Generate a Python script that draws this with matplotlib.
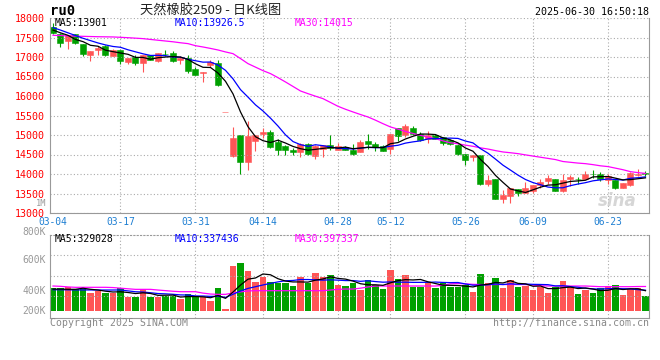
import matplotlib
matplotlib.use("Agg")
import matplotlib.pyplot as plt
import numpy as np

# trading days shown (2025)
dates = ["03-04", "03-05", "03-06", "03-07", "03-10", "03-11", "03-12", "03-13", "03-14", "03-17",
         "03-18", "03-19", "03-20", "03-21", "03-24", "03-25", "03-26", "03-27", "03-28", "03-31",
         "04-01", "04-02", "04-03", "04-07", "04-08", "04-09", "04-10", "04-11", "04-14", "04-15",
         "04-16", "04-17", "04-18", "04-21", "04-22", "04-23", "04-24", "04-25", "04-28", "04-29",
         "04-30", "05-06", "05-07", "05-08", "05-09", "05-12", "05-13", "05-14", "05-15", "05-16",
         "05-19", "05-20", "05-21", "05-22", "05-23", "05-26", "05-27", "05-28", "05-29", "05-30",
         "06-03", "06-04", "06-05", "06-06", "06-09", "06-10", "06-11", "06-12", "06-13", "06-16",
         "06-17", "06-18", "06-19", "06-20", "06-23", "06-24", "06-25", "06-26", "06-27", "06-30"]
date_ticks = ["03-04", "03-17", "03-31", "04-14", "04-28", "05-12", "05-26", "06-09", "06-23"]

open_ = [17770, 17600, 17411, 17580, 17325, 17052, 17190, 17275, 17026, 17170,
         16870, 17000, 16847, 17044, 16898, 17086, 17103, 16915, 16984, 16702,
         16590, 16787, 16847, 15580, 14454, 14992, 14309, 14847, 15018, 15069,
         14821, 14719, 14608, 14556, 14779, 14454, 14651, 14736, 14625, 14685,
         14625, 14565, 14847, 14762, 14710, 14651, 15189, 14992, 15189, 15035,
         14890, 14992, 14950, 14864, 14736, 14522, 14437, 14480, 13753, 13864,
         13351, 13437, 13608, 13522, 13565, 13710, 13821, 13881, 13565, 13864,
         13873, 13881, 14010, 13992, 13856, 13856, 13650, 13727, 13967, 14035]
high = [17880, 17610, 17560, 17600, 17330, 17155, 17275, 17300, 17215, 17180,
        16985, 17044, 17044, 17044, 17103, 17189, 17146, 17026, 17060, 16745,
        16625, 16915, 16933, 15580, 15206, 14992, 15351, 14992, 15189, 15121,
        14890, 14736, 14676, 14796, 14796, 14736, 14736, 14993, 14796, 14710,
        14779, 14864, 15035, 14821, 14736, 15018, 15189, 15291, 15223, 15078,
        15095, 15010, 14950, 14890, 14762, 14522, 14496, 14480, 13967, 13864,
        13599, 13642, 13608, 13795, 13710, 13881, 13967, 13881, 13992, 13967,
        13924, 14078, 14095, 14052, 13992, 13856, 13770, 14052, 14138, 14077]
low = [17600, 17260, 17215, 17325, 17020, 16900, 17045, 17020, 17026, 16830,
       16810, 16787, 16616, 16920, 16873, 17018, 16873, 16830, 16590, 16531,
       16360, 16745, 16250, 15580, 14437, 13992, 14095, 14582, 14932, 14676,
       14480, 14480, 14480, 14437, 14480, 14394, 14437, 14608, 14608, 14608,
       14480, 14565, 14650, 14591, 14591, 14505, 14847, 14950, 14992, 14847,
       14796, 14890, 14753, 14736, 14480, 14223, 14326, 13710, 13693, 13368,
       13266, 13266, 13437, 13522, 13522, 13650, 13753, 13565, 13540, 13693,
       13753, 13864, 13907, 13821, 13736, 13625, 13650, 13685, 13941, 13941]
close = [17625, 17360, 17556, 17360, 17070, 17155, 17240, 17050, 17170, 16900,
         16985, 16847, 17044, 16933, 17103, 17070, 16898, 16984, 16642, 16531,
         16625, 16873, 16275, 15580, 14924, 14309, 14975, 14992, 15069, 14693,
         14608, 14608, 14556, 14779, 14505, 14710, 14736, 14668, 14710, 14625,
         14505, 14821, 14762, 14693, 14591, 15018, 14967, 15223, 15035, 14881,
         15010, 14907, 14804, 14762, 14505, 14351, 14496, 13753, 13856, 13368,
         13454, 13642, 13522, 13642, 13710, 13796, 13907, 13565, 13856, 13924,
         13864, 13992, 13992, 13881, 13950, 13650, 13770, 14027, 13992, 14000]

ma5 = [17690, 17620, 17556, 17450, 17394, 17300, 17276, 17175, 17137, 17103,
       17069, 16990, 16989, 16942, 16982, 16999, 17010, 16998, 16939, 16825,
       16736, 16731, 16589, 16377, 16055, 15592, 15213, 14956, 14854, 14808,
       14867, 14794, 14707, 14649, 14611, 14632, 14657, 14680, 14666, 14690,
       14649, 14666, 14685, 14681, 14674, 14777, 14806, 14898, 14967, 15025,
       15023, 15011, 14927, 14873, 14798, 14666, 14584, 14373, 14192, 13965,
       13785, 13615, 13568, 13526, 13594, 13662, 13715, 13724, 13767, 13810,
       13823, 13840, 13926, 13931, 13936, 13893, 13849, 13856, 13878, 13901]
ma10 = [17753, 17690, 17620, 17550, 17480, 17420, 17360, 17310, 17270, 17249,
        17185, 17133, 17082, 17040, 17043, 17034, 17000, 16994, 16941, 16904,
        16868, 16871, 16794, 16658, 16440, 16164, 15972, 15773, 15616, 15432,
        15230, 15004, 14832, 14752, 14710, 14750, 14726, 14694, 14658, 14651,
        14641, 14662, 14683, 14674, 14682, 14713, 14736, 14792, 14824, 14850,
        14900, 14909, 14913, 14920, 14912, 14845, 14798, 14650, 14533, 14382,
        14226, 14100, 13971, 13859, 13780, 13724, 13665, 13646, 13647, 13702,
        13743, 13778, 13825, 13849, 13873, 13858, 13845, 13891, 13905, 13926.5]
ma30 = [17556, 17550, 17540, 17535, 17530, 17525, 17520, 17517, 17514, 17505,
        17495, 17483, 17471, 17450, 17430, 17410, 17390, 17365, 17343, 17290,
        17257, 17220, 17180, 17130, 17086, 16960, 16830, 16740, 16650, 16574,
        16470, 16360, 16245, 16129, 16060, 15995, 15932, 15835, 15736, 15660,
        15591, 15525, 15462, 15380, 15290, 15206, 15150, 15090, 15040, 14992,
        14945, 14905, 14850, 14800, 14775, 14740, 14710, 14670, 14640, 14600,
        14565, 14545, 14522, 14490, 14460, 14430, 14400, 14370, 14320, 14300,
        14280, 14265, 14240, 14210, 14190, 14150, 14110, 14060, 14035, 14015]

# volume, thousands of lots
vol = [378, 378, 389, 351, 351, 292, 319, 292, 286, 373,
       232, 232, 351, 232, 221, 243, 243, 189, 275, 221,
       221, 167, 378, 37, 734, 782, 648, 475, 556, 475,
       459, 459, 405, 556, 459, 621, 556, 583, 421, 405,
       459, 340, 502, 421, 356, 664, 518, 583, 394, 394,
       475, 378, 448, 383, 383, 421, 313, 599, 448, 535,
       373, 502, 383, 405, 340, 394, 292, 383, 486, 383,
       275, 340, 292, 367, 405, 416, 259, 351, 367, 243]
vol_ma5 = [355, 355, 352, 352, 369, 352, 340, 321, 308, 312,
           300, 283, 295, 284, 254, 256, 258, 226, 234, 234,
           230, 215, 252, 205, 307, 420, 516, 535, 600, 587,
           523, 485, 471, 471, 468, 500, 519, 555, 528, 517,
           485, 442, 425, 425, 416, 457, 492, 508, 503, 511,
           473, 445, 418, 416, 413, 403, 390, 420, 433, 463,
           454, 491, 448, 440, 401, 405, 363, 363, 379, 388,
           364, 373, 355, 331, 336, 364, 348, 360, 360, 329.028]
vol_ma10 = [345, 345, 343, 342, 341, 341, 340, 340, 340, 341,
            326, 312, 308, 296, 283, 278, 271, 261, 259, 244,
            243, 237, 239, 220, 271, 325, 366, 394, 422, 447,
            472, 490, 495, 510, 510, 505, 500, 505, 500, 493,
            493, 481, 490, 477, 467, 471, 467, 467, 464, 464,
            465, 469, 463, 460, 462, 438, 418, 419, 425, 438,
            429, 441, 434, 437, 432, 430, 427, 406, 410, 395,
            385, 368, 359, 355, 362, 364, 361, 358, 346, 337.436]
vol_ma30 = [405, 400, 390, 384, 384, 384, 384, 384, 380, 370,
            360, 351, 351, 351, 340, 330, 320, 313, 313, 313,
            290, 275, 270, 270, 292, 310, 325, 329, 329, 329,
            329, 329, 329, 329, 329, 329, 329, 340, 351, 356,
            356, 370, 390, 405, 405, 405, 405, 405, 405, 405,
            405, 405, 415, 440, 445, 440, 432, 429, 429, 429,
            429, 429, 429, 429, 420, 410, 405, 405, 405, 405,
            405, 405, 400, 394, 394, 394, 394, 394, 397, 397.337]
vol_labels = ["800K", "600K", "400K", "200K"]

RED = "#ff5555"
GREEN = "#00a000"
GRID = "#aaaaaa"
FRAME = "#999999"
MONO = "DejaVu Sans Mono"
plt.rcParams["font.family"] = [MONO, "Noto Sans CJK SC"]

W, H = 660, 360
def fx(px):
    return px / W
def fy(py):
    return 1 - py / H

fig = plt.figure(figsize=(6.6, 3.6), dpi=100)
ax = fig.add_axes([fx(50), fy(213), fx(599), 195 / H])
axv = fig.add_axes([fx(50), fy(318), fx(599), 83.3 / H])

x = np.arange(len(dates))
o = np.array(open_)
c = np.array(close)
cols = np.where(c >= o, RED, GREEN)
tick_pos = [dates.index(d) for d in date_ticks]

# price panel
ax.vlines(x, low, high, colors=cols, lw=0.8)
ax.bar(x, np.maximum(np.abs(c - o), 6), bottom=np.minimum(o, c), width=0.8,
       color=cols, edgecolor=cols, linewidth=0.4)
ax.plot(x, ma30, color="#ff00ff", lw=0.9)
ax.plot(x, ma10, color="#0000ff", lw=0.9)
ax.plot(x, ma5, color="black", lw=0.9)

ax.set_xlim(-0.4, 79.47)
ax.set_ylim(13000, 18000)
ax.set_yticks(np.arange(13000, 18001, 500))
ax.grid(axis="y", color=GRID, linestyle=(0, (1, 2)), lw=0.8)
for p in tick_pos[1:]:
    ax.axvline(p, color=GRID, linestyle=(0, (1, 2)), lw=0.8, zorder=0)
ax.set_xticks(tick_pos)
ax.set_xticklabels(date_ticks)
ax.tick_params(axis="y", length=0, pad=4, labelcolor="#ff0000", labelsize=7.2)
ax.tick_params(axis="x", length=0, pad=3, labelcolor="#1e7fd2", labelsize=6.9)
for s in ["left", "bottom", "right"]:
    ax.spines[s].set_color(FRAME)
ax.spines["top"].set_visible(False)

ax.text(0.98, 0.06, "sina", transform=ax.transAxes, ha="right", va="center",
        fontsize=12, fontweight="bold", style="italic", color="#cccccc",
        family="DejaVu Sans", alpha=0.8)

# volume panel
axv.bar(x, vol, width=0.82, color=cols, linewidth=0)
axv.plot(x, vol_ma30, color="#ff00ff", lw=0.9)
axv.plot(x, vol_ma10, color="#0000ff", lw=0.9)
axv.plot(x, vol_ma5, color="black", lw=0.9)
axv.set_xlim(-0.4, 79.47)
axv.set_ylim(-113, 1236)
axv.set_xticks([])
axv.set_yticks([248, 575, 902])
axv.set_yticklabels([])
axv.tick_params(length=0)
axv.grid(axis="y", color=GRID, linestyle=(0, (1, 2)), lw=0.8)
for p in tick_pos[1:]:
    axv.axvline(p, color=GRID, linestyle=(0, (1, 2)), lw=0.8, zorder=0)
for s in ["left", "bottom", "right"]:
    axv.spines[s].set_color(FRAME)
axv.spines["top"].set_color(FRAME)
axv.spines["top"].set_linestyle((0, (1, 2)))

for lab, py in zip(vol_labels, [231.5, 260.3, 290.7, 310.7]):
    fig.text(fx(46), fy(py), lab, ha="right", va="center", fontsize=7, color="#999999")
fig.text(fx(46), fy(203), "1M", ha="right", va="center", fontsize=6.2, color="#999999")

# legends
ty = fy(22.5)
fig.text(fx(55), ty, f"MA5:{ma5[-1]:g}", fontsize=7, va="center", color="black")
fig.text(fx(175), ty, f"MA10:{ma10[-1]:g}", fontsize=7, va="center", color="#0000ff")
fig.text(fx(295), ty, f"MA30:{ma30[-1]:g}", fontsize=7, va="center", color="#ff00ff")
vy = fy(238.5)
fig.text(fx(55), vy, f"MA5:{round(vol_ma5[-1] * 1000)}", fontsize=7, va="center", color="black")
fig.text(fx(175), vy, f"MA10:{round(vol_ma10[-1] * 1000)}", fontsize=7, va="center", color="#0000ff")
fig.text(fx(295), vy, f"MA30:{round(vol_ma30[-1] * 1000)}", fontsize=7, va="center", color="#ff00ff")

# header / footer
fig.text(fx(50), fy(11), "ru0", fontsize=10, fontweight="bold", va="center")
fig.text(fx(140), fy(11), "天然橡胶2509 - 日K线图", fontsize=9.5, va="center",
         family=["Noto Sans CJK SC", MONO], color="#222222")
fig.text(fx(649), fy(12.3), "2025-06-30 16:50:18", fontsize=7.2, ha="right", va="center")
fig.text(fx(50), fy(323.5), "Copyright 2025 SINA.COM", fontsize=7.1, va="center", color="#888888")
fig.text(fx(649), fy(323.5), "http://finance.sina.com.cn", fontsize=7.1, ha="right",
         va="center", color="#888888")

fig.savefig("out.png", dpi=100)
